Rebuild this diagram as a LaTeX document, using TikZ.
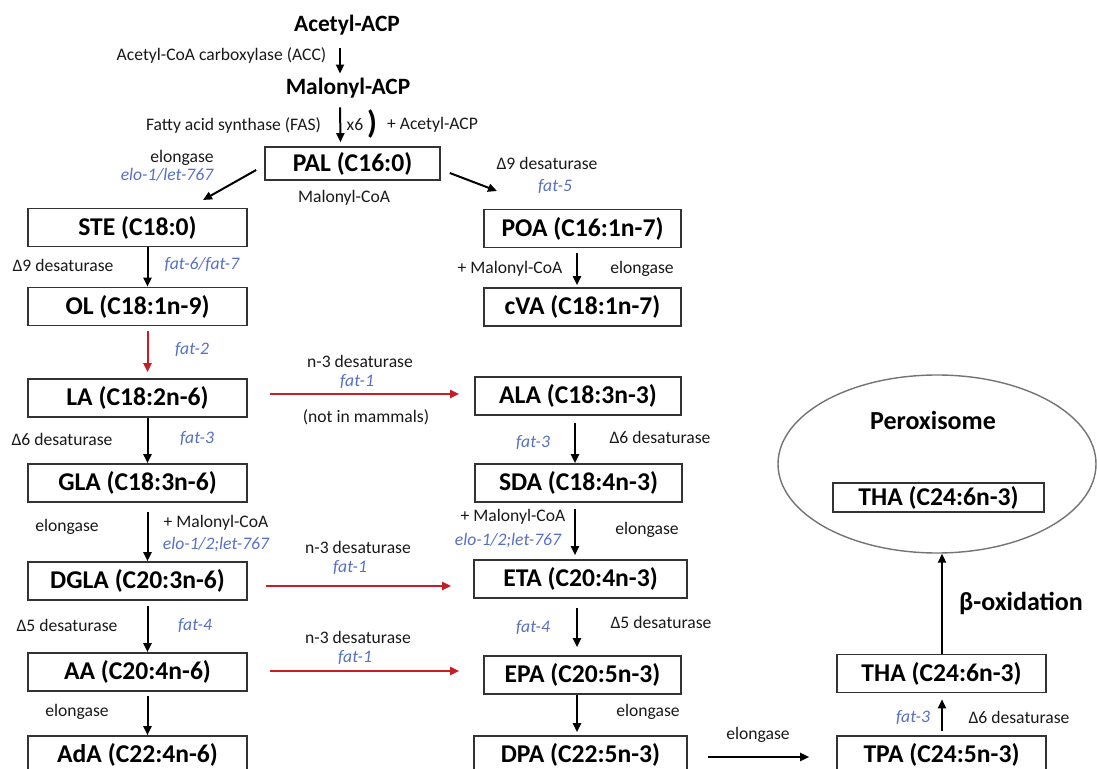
\documentclass[tikz,border=0pt]{standalone}
\usepackage{fontspec}
\setmainfont{Carlito}
\usetikzlibrary{arrows.meta,shapes.geometric}
\definecolor{geneblue}{RGB}{86,112,196}
\definecolor{arrred}{RGB}{198,30,38}

\begin{document}
\begin{tikzpicture}[x=0.5pt, y=-0.5pt,
  box/.style={draw=black!80, line width=0.8pt, minimum height=19pt, inner sep=0pt,
    font=\fontsize{12.8}{14}\selectfont\bfseries},
  lbl/.style={inner sep=0pt, text=black!90, font=\fontsize{8.8}{10}\selectfont},
  gene/.style={lbl, text=geneblue, font=\fontsize{8.8}{10}\selectfont\itshape},
  head/.style={inner sep=1pt, font=\fontsize{11.7}{13}\selectfont\bfseries},
  big/.style={inner sep=1pt, font=\fontsize{13}{15}\selectfont\bfseries},
  arr/.style={-{Triangle[length=4.5pt,width=4pt]}, line width=1pt},
  redarr/.style={arr, draw=arrred}]
\useasboundingbox (0,0) rectangle (1097,769);

% synthesis of palmitate
\node[head] (acetyl) at (347,25) {Acetyl-ACP};
\node[head] (malonyl) at (348,88) {Malonyl-ACP};
\node[box, minimum width=87.5pt, minimum height=16.5pt] (pal) at (352.5,163.5) {PAL (C16:0)};
\draw[arr, shorten <=5.5pt, shorten >=1pt] ([xshift=-3.5pt]acetyl.south) -- ([xshift=-4pt]malonyl.north);
\draw[arr, shorten <=3.5pt, shorten >=2pt] ([xshift=-4pt]malonyl.south) -- ([xshift=-6pt]pal.north);
\node[lbl] (acc) at (221.5,55) {Acetyl-CoA carboxylase (ACC)};
\node[lbl] (fas) at (233.5,125) {Fatty acid synthase (FAS)};
\node[lbl] (times) at (355,125) {x6};
\node[inner sep=0pt, font=\fontsize{16}{16}\selectfont\bfseries] (paren) at (372,124) {)};
\node[lbl] (plusacetyl) at (432.5,125) {+ Acetyl-ACP};

% n-6 column
\node[box, minimum width=109.5pt] (ste) at (137.5,227.5) {STE (C18:0)};
\node[box, minimum width=109.5pt] (ol) at (137.5,306.5) {OL (C18:1n-9)};
\node[box, minimum width=109.5pt] (la) at (137.5,398) {LA (C18:2n-6)};
\node[box, minimum width=109.5pt] (gla) at (137.5,483) {GLA (C18:3n-6)};
\node[box, minimum width=109.5pt] (dgla) at (137.5,581) {DGLA (C20:3n-6)};
\node[box, minimum width=109.5pt] (aa) at (137.5,672) {AA (C20:4n-6)};
\node[box, minimum width=109.5pt] (ada) at (137.5,755) {AdA (C22:4n-6)};

% n-3 column
\node[box, minimum width=98.5pt] (poa) at (582.5,228.5) {POA (C16:1n-7)};
\node[box, minimum width=98.5pt] (cva) at (582.5,307) {cVA (C18:1n-7)};
\node[box, minimum width=103pt] (ala) at (578,396) {ALA (C18:3n-3)};
\node[box, minimum width=103.5pt] (sda) at (578.5,483) {SDA (C18:4n-3)};
\node[box, minimum width=106.5pt] (eta) at (580.5,579) {ETA (C20:4n-3)};
\node[box, minimum width=98.5pt] (epa) at (582.5,675) {EPA (C20:5n-3)};
\node[box, minimum width=106.5pt] (dpa) at (580.5,755) {DPA (C22:5n-3)};

% peroxisome
\node[draw=black!55, line width=0.7pt, ellipse, minimum width=159pt, minimum height=89pt, inner sep=0pt] (perox) at (937,464) {};
\node[big] (peroxlbl) at (933,420) {Peroxisome};
\node[box, minimum width=105.5pt, minimum height=14.5pt] (thain) at (938.5,497.5) {THA (C24:6n-3)};
\node[box, minimum width=104.5pt] (thaout) at (941.5,673.5) {THA (C24:6n-3)};
\node[box, minimum width=104.5pt] (tpa) at (941.5,755) {TPA (C24:5n-3)};
\node[big] (betaox) at (1021,603) {β-oxidation};

% branches out of PAL
\coordinate (steIn) at (203,200);
\coordinate (poaIn) at (497,191);
\draw[arr] ([xshift=-4pt,yshift=-3.25pt]pal.west) -- (steIn);
\draw[arr] ([xshift=4.5pt,yshift=-4.75pt]pal.east) -- (poaIn);
\node[lbl] (elo1) at (182,158) {elongase};
\node[gene] (elo1g) at (167,175) {elo-1/let-767};
\node[lbl] (malcoa1) at (344,198) {Malonyl-CoA};
\node[lbl] (d9a) at (547,163) {Δ9 desaturase};
\node[gene] (fat5) at (555,187) {fat-5};

% n-6 steps
\draw[arr] ([xshift=5pt]ste.south) -- ([xshift=5pt]ol.north);
\draw[redarr, shorten <=2.5pt, shorten >=3pt] ([xshift=5pt]ol.south) -- ([xshift=5pt]la.north);
\draw[arr] ([xshift=5pt]la.south) -- ([xshift=5pt]gla.north);
\draw[arr, shorten <=4.5pt] ([xshift=5pt]gla.south) -- ([xshift=5pt]dgla.north);
\draw[arr, shorten <=2.5pt] ([xshift=5pt]dgla.south) -- ([xshift=5pt]aa.north);
\draw[arr, shorten <=2pt] ([xshift=5pt]aa.south) -- ([xshift=5pt]ada.north);
\node[lbl] (d9b) at (63,265) {Δ9 desaturase};
\node[gene] (fat67) at (202,265) {fat-6/fat-7};
\node[gene] (fat2) at (192,350) {fat-2};
\node[lbl] (d6a) at (62,439) {Δ6 desaturase};
\node[gene] (fat3a) at (197,439) {fat-3};
\node[lbl] (elo2) at (67,527) {elongase};
\node[lbl] (malcoa2) at (216,523) {+ Malonyl-CoA};
\node[gene] (elo2g) at (216,545) {elo-1/2;let-767};
\node[lbl] (d5a) at (67,625) {Δ5 desaturase};
\node[gene] (fat4a) at (195,625) {fat-4};
\node[lbl] (elo3) at (77,712) {elongase};

% n-3 steps
\draw[arr, shorten <=2.5pt, shorten >=1pt] ([xshift=-2.75pt]poa.south) -- ([xshift=-2.75pt]cva.north);
\draw[arr, shorten <=3.5pt] ([xshift=-1.5pt]ala.south) -- ([xshift=-1.75pt]sda.north);
\draw[arr, shorten <=3pt, shorten >=2pt] ([xshift=-1.75pt]sda.south) -- ([xshift=-2.75pt]eta.north);
\draw[arr, shorten <=4.5pt, shorten >=4pt] ([xshift=-1.75pt]eta.south) -- ([xshift=-2.75pt]epa.north);
\draw[arr, shorten >=1.5pt] ([xshift=-2.75pt]epa.south) -- ([xshift=-1.75pt]dpa.north);
\node[lbl] (malcoa3) at (510,269) {+ Malonyl-CoA};
\node[lbl] (elo4) at (642,269) {elongase};
\node[gene] (fat3b) at (533,442) {fat-3};
\node[lbl] (d6b) at (660,437) {Δ6 desaturase};
\node[lbl] (malcoa4) at (513,517) {+ Malonyl-CoA};
\node[lbl] (elo5) at (647,530) {elongase};
\node[gene] (elo5g) at (508,541) {elo-1/2;let-767};
\node[gene] (fat4b) at (533,627) {fat-4};
\node[lbl] (d5b) at (661,622) {Δ5 desaturase};
\node[lbl] (elo6) at (648,712) {elongase};

% n-6 to n-3
\draw[redarr, shorten <=11pt, shorten >=7.5pt] ([yshift=2pt]la.east) -- ([yshift=2pt]la.east -| ala.west);
\draw[redarr, shorten <=9pt, shorten >=11pt] ([yshift=-2.5pt]dgla.east) -- ([yshift=-2.5pt]dgla.east -| eta.west);
\draw[redarr, shorten <=11pt, shorten >=12pt] ([yshift=0.5pt]aa.east) -- ([yshift=0.5pt]aa.east -| epa.west);
\node[lbl] (n3a) at (360,361) {n-3 desaturase};
\node[gene] (fat1a) at (357,382) {fat-1};
\node[lbl] (mammals) at (366,417) {(not in mammals)};
\node[lbl] (n3b) at (358,547) {n-3 desaturase};
\node[gene] (fat1b) at (350,567) {fat-1};
\node[lbl] (n3c) at (358,637) {n-3 desaturase};
\node[gene] (fat1c) at (355,657) {fat-1};

% to the peroxisome
\draw[arr, shorten <=10pt, shorten >=13.5pt] ([yshift=-1pt]dpa.east) -- ([yshift=-1pt]dpa.east -| tpa.west);
\draw[arr, shorten <=2pt, shorten >=3pt] ([xshift=0.25pt]tpa.north) -- ([xshift=0.25pt]thaout.south);
\draw[arr] ([xshift=0.25pt]thaout.north) -- ([xshift=0.25pt]thaout.north |- perox.south);
\node[lbl] (elo7) at (758,735) {elongase};
\node[gene] (fat3c) at (913,717) {fat-3};
\node[lbl] (d6c) at (1019,717) {Δ6 desaturase};
\end{tikzpicture}
\end{document}
